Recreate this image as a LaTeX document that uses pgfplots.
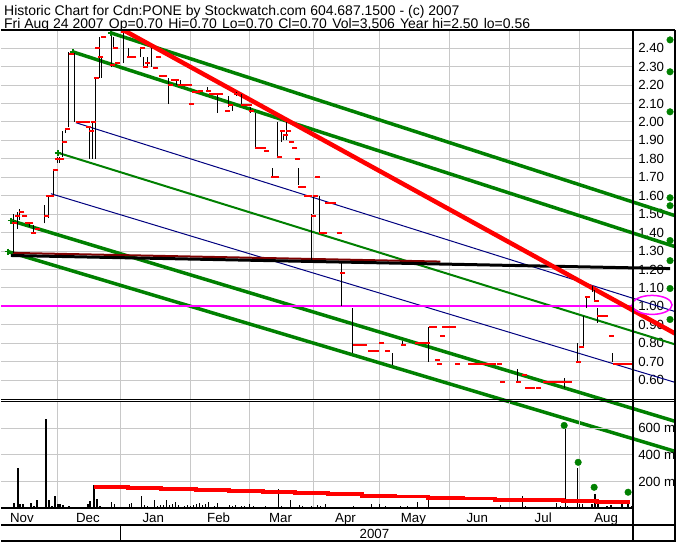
\documentclass[border=0pt]{standalone}
\usepackage{pgfplots}
\pgfplotsset{compat=1.18}
\usepackage{fontspec}
\setmainfont{Liberation Sans}
\definecolor{sgreen}{HTML}{008000}
\definecolor{snavy}{HTML}{000080}
\definecolor{sgrid}{HTML}{C8C8C8}
\definecolor{smaroon}{HTML}{800000}
\definecolor{smagenta}{HTML}{FF00FF}
\definecolor{sred}{HTML}{FF0000}
\newcommand{\fs}{\fontsize{13.3bp}{15bp}\selectfont}
\newcommand{\hs}{\fontsize{14bp}{16bp}\selectfont}
\begin{document}
\begin{tikzpicture}
\begin{scope}[x=1bp,y=1bp]
\fill[white] (0,0) rectangle (680,543);
\useasboundingbox (0,0) rectangle (680,543);
\end{scope}

% ---------------- price panel ----------------
\begin{axis}[
  at={(0bp,143.8bp)}, anchor=south west,
  width=633bp, height=369.4bp, scale only axis,
  xmin=0, xmax=633, ymin=0.5, ymax=2.5,
  clip=false,
  axis line style={draw=none},
  major tick length=0pt,
  xtick={56.7,119.3,190,249.3,313.3,379.3,449.3,509.3,579.3},
  xticklabels={},
  ytick={0.6,0.7,0.8,0.9,1.0,1.1,1.2,1.3,1.4,1.5,1.6,1.7,1.8,1.9,2.0,2.1,2.2,2.3,2.4},
  yticklabel pos=right,
  yticklabel style={font=\fs, anchor=west, inner sep=0pt, xshift=5bp,
     /pgf/number format/.cd, fixed, fixed zerofill, precision=2, assume math mode=true},
  grid=major, grid style={sgrid, line width=1bp},
]
% channel lines
\addplot[snavy, line width=1bp] coordinates {(75,1.996) (675,0.972)};
\addplot[snavy, line width=1bp] coordinates {(50,1.611) (675,0.588)};
\addplot[sgreen, line width=2bp, mark=+, mark indices={1}, mark size=3bp, mark options={line width=1.5bp}] coordinates {(57,1.833) (675,0.794)};
\addplot[sgreen, line width=3.5bp, mark=+, mark indices={1}, mark size=3bp, mark options={line width=1.5bp}] coordinates {(110,2.483) (675,1.492)};
\addplot[sgreen, line width=3.5bp, mark=+, mark indices={1}, mark size=3bp, mark options={line width=1.5bp}] coordinates {(72,2.380) (675,1.324)};
\addplot[sgreen, line width=3.5bp, mark=+, mark indices={1}, mark size=3bp, mark options={line width=1.5bp}] coordinates {(10,1.465) (675,0.377)};
\addplot[sgreen, line width=3.5bp, mark=+, mark indices={1}, mark size=3bp, mark options={line width=1.5bp}] coordinates {(7,1.297) (675,0.214)};
\addplot[smaroon, line width=2bp] coordinates {(12,1.290) (440,1.243)};
\addplot[black, line width=3bp] coordinates {(10,1.276) (670,1.205)};
\addplot[smagenta, line width=2bp] coordinates {(0,1.00) (633,1.00)};
\addplot[sred, line width=4.5bp] coordinates {(124,2.494) (675,0.853)};
% high-low bars
\addplot[black, line width=1bp, unbounded coords=jump] coordinates {
(13,1.29) (13,1.50) (13,nan) (17,1.42) (17,1.51) (17,nan) (19,1.47) (19,1.53) (19,nan)
(29,1.43) (29,1.45) (29,nan) (33,1.40) (33,1.44) (33,nan) (44,1.45) (44,1.55) (44,nan)
(48,1.48) (48,1.60) (48,nan) (53,1.60) (53,1.74) (53,nan) (57,1.78) (57,1.81) (57,nan)
(59,1.78) (59,1.81) (59,nan) (62,1.81) (62,1.95) (62,nan) (65,1.94) (65,1.96) (65,nan)
(68,1.97) (68,2.38) (68,nan) (74,2.00) (74,2.38) (74,nan) (89,1.80) (89,1.97) (89,nan)
(92,1.80) (92,2.00) (92,nan) (95,1.80) (95,2.24) (95,nan) (99,2.24) (99,2.46) (99,nan)
(101,2.24) (101,2.35) (101,nan) (111,2.30) (111,2.47) (111,nan) (113,2.40) (113,2.46) (113,nan)
(123,2.32) (123,2.50) (123,nan) (128,2.35) (128,2.40) (128,nan) (140,2.35) (140,2.40) (140,nan)
(143,2.30) (143,2.35) (143,nan) (147,2.30) (147,2.35) (147,nan) (151,2.30) (151,2.40) (151,nan)
(168,2.10) (168,2.24) (168,nan) (176,2.20) (176,2.23) (176,nan) (180,2.20) (180,2.23) (180,nan)
(207,2.17) (207,2.19) (207,nan) (217,2.05) (217,2.15) (217,nan) (228,2.08) (228,2.14) (228,nan)
(232,2.06) (232,2.09) (232,nan) (236,2.14) (236,2.16) (236,nan) (241,2.09) (241,2.15) (241,nan)
(250,2.05) (250,2.08) (250,nan) (255,1.86) (255,2.05) (255,nan) (272,1.70) (272,1.75) (272,nan)
(277,1.81) (277,2.00) (277,nan) (281,1.89) (281,1.95) (281,nan) (283,1.90) (283,1.93) (283,nan)
(286,1.90) (286,2.00) (286,nan) (298,1.66) (298,1.75) (298,nan) (311,1.25) (311,1.50) (311,nan)
(313,1.50) (313,1.60) (313,nan) (319,1.40) (319,1.60) (319,nan) (341,1.00) (341,1.24) (341,nan)
(352,0.75) (352,0.99) (352,nan) (392,0.68) (392,0.75) (392,nan) (402,0.79) (402,0.81) (402,nan)
(428,0.70) (428,0.89) (428,nan) (517,0.59) (517,0.66) (517,nan) (564,0.56) (564,0.61) (564,nan)
(577,0.70) (577,0.80) (577,nan) (583,0.78) (583,0.95) (583,nan) (586,0.99) (586,1.05) (586,nan)
(592,1.08) (592,1.11) (592,nan) (594,1.03) (594,1.09) (594,nan) (597,0.91) (597,0.99) (597,nan)
(612,0.70) (612,0.75)
};
% closes
\addplot[only marks, sred, mark=-, mark size=2.5bp, mark options={line width=2bp}] coordinates {
(14,1.45) (17,1.49) (21,1.51) (24,1.49) (27,1.45) (30,1.45) (33,1.40) (37,1.42) (46,1.49)
(48,1.60) (51,1.60) (55,1.74) (57,1.80) (61,1.80) (64,1.89) (67,1.96) (71,2.37)
(78,2.00) (81,2.00) (84,2.00) (87,2.00) (88,1.97) (91,1.95) (93,2.00) (96,2.24) (97,2.40)
(100,2.35) (103,2.46) (112,2.31) (115,2.40) (117,2.32) (123,2.49) (129,2.35) (133,2.35)
(142,2.40) (145,2.30) (147,2.32) (155,2.29) (158,2.35) (161,2.25) (164,2.25) (170,2.20)
(173,2.23) (176,2.23) (180,2.20) (183,2.20) (186,2.20) (189,2.20) (191,2.10) (194,2.16)
(197,2.16) (200,2.17) (208,2.17) (211,2.15) (214,2.15) (217,2.15) (220,2.15) (227,2.06)
(230,2.09) (236,2.15) (243,2.09) (246,2.09) (249,2.09) (251,2.06) (257,1.86) (260,1.86)
(263,1.86) (266,1.84) (273,1.70) (276,1.70) (279,1.81) (282,1.95) (285,1.93) (288,1.95)
(291,1.89) (294,1.86) (297,1.80) (300,1.65) (303,1.65) (306,1.60) (309,1.60) (313,1.49)
(315,1.60) (317,1.70) (321,1.40) (324,1.40) (327,1.56) (330,1.56) (333,1.56) (339,1.40)
(342,1.18) (355,0.79) (358,0.79) (361,0.79) (364,0.79) (370,0.76) (373,0.76) (376,0.76)
(381,0.80) (387,0.76) (403,0.79) (417,0.80) (420,0.80) (423,0.80) (427,0.80) (431,0.89)
(434,0.89) (437,0.71) (439,0.69) (442,0.84) (444,0.89) (447,0.89) (450,0.89) (453,0.89)
(457,0.69) (470,0.69) (473,0.69) (476,0.69) (481,0.69) (484,0.69) (487,0.69) (490,0.69)
(493,0.69) (499,0.69) (502,0.59) (518,0.59) (524,0.63) (527,0.56) (532,0.56) (538,0.56)
(545,0.59) (548,0.59) (551,0.59) (554,0.59) (557,0.59) (560,0.59) (563,0.59) (566,0.59)
(569,0.59) (578,0.70) (581,0.78) (587,1.05) (596,1.03) (599,0.95) (602,0.95) (605,0.95)
(611,0.84) (615,0.69) (620,0.69) (625,0.69) (630,0.69)
};
% alert dots on the right margin
\addplot[only marks, mark=*, mark size=3.3bp, sgreen, mark options={fill=sgreen}] coordinates {
(670,2.445) (670,2.272) (670,2.055) (670,1.589) (670,1.546) (670,1.357) (670,1.248) (670,1.097) (670,0.929)
};
\draw[smagenta, line width=1.5bp] (axis cs:652,1.008) ellipse [x radius=20bp, y radius=9.5bp];
\end{axis}

% ---------------- volume panel ----------------
\begin{axis}[
  at={(0bp,34bp)}, anchor=south west,
  width=633bp, height=107bp, scale only axis,
  xmin=0, xmax=633, ymin=0, ymax=800,
  clip=false,
  axis line style={draw=none},
  major tick length=0pt,
  xtick={21,87,152.5,218,280,345,413,477,543,606},
  xticklabels={Nov,Dec,Jan,Feb,Mar,Apr,May,Jun,Jul,Aug},
  xticklabel style={font=\fs, anchor=base, yshift=-14bp, inner sep=0pt},
  extra x ticks={56.7,119.3,190,249.3,313.3,379.3,449.3,509.3,579.3},
  extra x tick labels={},
  extra x tick style={grid=major},
  ytick={200,400,600}, yticklabels={200 m,400 m,600 m},
  yticklabel pos=right,
  yticklabel style={font=\fs, anchor=west, inner sep=0pt, xshift=5bp},
  ymajorgrids, grid style={sgrid, line width=1bp},
]
\addplot[ycomb, black, line width=1.3bp, mark=none] coordinates {
(13,42) (17,299) (19,30) (22,30) (25,10) (30,37) (33,17) (36,60) (39,12) (42,12) (45,672)
(48,60) (51,17) (54,90) (57,35) (59,30) (62,25) (65,12) (68,17) (71,12) (74,12) (77,12)
(80,12) (83,12) (87,30) (89,55) (93,172) (96,67) (99,17) (102,12) (111,45) (114,30)
(117,12) (123,10) (129,30) (131,37) (141,90) (144,25) (147,15) (151,12) (154,60) (157,17)
(160,25) (163,25) (166,62) (169,25) (172,30) (175,47) (178,25) (181,12) (184,17) (187,25)
(190,17) (193,25) (196,30) (199,37) (202,25) (205,30) (208,50) (211,12) (214,17) (217,42)
(220,12) (223,12) (226,12) (229,25) (232,17) (235,25) (238,12) (241,15) (244,17) (247,12)
(249,30) (253,17) (256,12) (259,12) (262,12) (265,17) (268,12) (271,12) (274,12) (278,142)
(281,17) (284,12) (287,12) (290,60) (293,12) (299,25) (302,17) (305,12) (311,17) (314,12)
(317,25) (320,17) (325,35) (332,10) (337,10) (340,10) (343,10) (347,10) (353,17) (357,10)
(360,10) (371,30) (373,12) (379,30) (385,17) (392,12) (395,12) (400,17) (407,17) (413,12)
(417,47) (420,12) (423,10) (428,72) (435,10) (440,10) (453,12) (460,10) (467,10) (473,10)
(480,10) (487,10) (493,10) (500,22) (507,10) (517,12) (522,90) (525,17) (530,12) (537,12)
(543,12) (550,12) (556,42) (560,17) (565,590) (567,17) (577,300) (579,35) (582,30) (586,12)
(592,30) (595,110) (598,55) (607,17) (611,25) (622,40) (628,30) (632,17)
};
\addplot[const plot, sred, line width=4bp] coordinates {
(93,157) (127,150) (160,142) (195,135) (228,127) (262,120) (294,112) (327,105) (362,95)
(395,88) (428,80) (463,73) (495,65) (529,60) (563,52) (597,45) (630,45)
};
\addplot[only marks, mark=*, mark size=3.3bp, sgreen, mark options={fill=sgreen}] coordinates {
(564,620) (578,344) (594,157) (628,120)
};
\end{axis}

% ---------------- frame and header ----------------
\begin{scope}[x=1bp,y=1bp]
\draw[line width=2bp] (0,512.5) -- (675,512.5);
\draw[line width=2bp] (633,512.5) -- (633,0);
\draw[line width=2bp] (674.5,512.5) -- (674.5,0);
\draw[line width=1bp] (0,143) -- (675,143);
\draw[line width=1bp] (0,141) -- (675,141);
\draw[line width=2bp] (0,34) -- (633,34);
\draw[line width=2bp] (0,17) -- (675,17);
\draw[line width=2bp] (0,1) -- (675,1);
\draw[line width=1bp] (119.3,17) -- (119.3,1);
\node[anchor=base, inner sep=0pt, font=\fs] at (374,4) {2007};
\node[anchor=base west, inner sep=0pt, font=\hs] at (3,527.5) {Historic Chart for Cdn:PONE by Stockwatch.com 604.687.1500 - (c) 2007};
\node[anchor=base west, inner sep=0pt, font=\hs] at (3,514.5) {Fri Aug 24 2007\hspace{0.38em}Op=0.70\hspace{0.38em}Hi=0.70\hspace{0.38em}Lo=0.70\hspace{0.38em}Cl=0.70\hspace{0.38em}Vol=3,506\hspace{0.38em}Year hi=2.50\hspace{0.38em}lo=0.56};
\end{scope}
\end{tikzpicture}
\end{document}
